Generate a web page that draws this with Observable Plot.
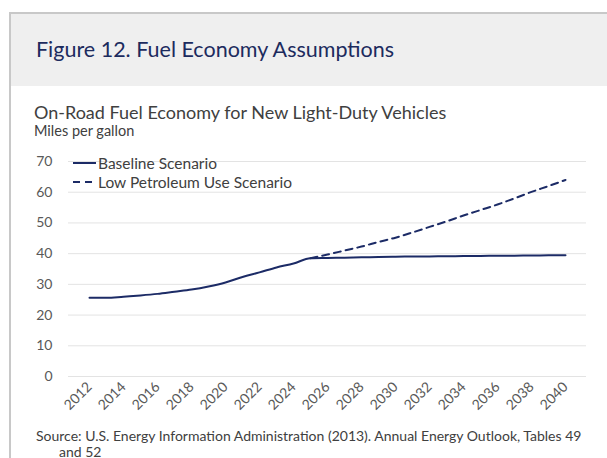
<!DOCTYPE html>
<html>
<head>
<meta charset="utf-8">
<script src="https://cdn.jsdelivr.net/npm/d3@7"></script>
<script src="https://cdn.jsdelivr.net/npm/@observablehq/plot@0.6"></script>
<style>
  html, body { margin: 0; padding: 0; background: #fff; }
  #page { position: relative; width: 607px; height: 458px; overflow: hidden; font-family: Lato, "Open Sans", sans-serif; }
  #frame { position: absolute; left: 9px; top: 12px; width: 700px; height: 600px; border-left: 2px solid #c8c8c8; border-top: 2px solid #c8c8c8; }
  #band { position: absolute; left: 11px; top: 14px; width: 700px; height: 72px; background: #efefef; }
  #title { position: absolute; left: 36px; top: 39px; font-size: 21.5px; color: #1c2b5e; white-space: nowrap; line-height: 1; }
  #subtitle { position: absolute; left: 34px; top: 103px; font-size: 18px; color: #404040; white-space: nowrap; line-height: 1; }
  #unit { position: absolute; left: 34px; top: 124px; font-size: 14.5px; color: #404040; white-space: nowrap; line-height: 1; }
  #chart { position: absolute; left: 0; top: 140px; }
  #legend { position: absolute; left: 73px; top: 154px; font-size: 15.5px; color: #404040; line-height: 18.5px; }
  #legend .row { display: flex; align-items: center; white-space: nowrap; }
  #legend svg { margin-right: 2px; }
  #source { position: absolute; left: 36px; top: 428px; font-size: 14px; color: #404040; line-height: 15.5px; white-space: nowrap; }
</style>
</head>
<body>
<div id="page">
  <div id="frame"></div>
  <div id="band"></div>
  <div id="title">Figure 12. Fuel Economy Assumptions</div>
  <div id="subtitle">On-Road Fuel Economy for New Light-Duty Vehicles</div>
  <div id="unit">Miles per gallon</div>
  <div id="chart"></div>
  <div id="legend"></div>
  <div id="source">Source: U.S. Energy Information Administration (2013). Annual Energy Outlook, Tables 49<br><span style="padding-left:23px">and 52</span></div>
</div>
<script>
const years = [2012, 2013, 2014, 2015, 2016, 2017, 2018, 2019, 2020, 2021, 2022, 2023, 2024, 2025, 2026, 2027, 2028, 2029, 2030, 2031, 2032, 2033, 2034, 2035, 2036, 2037, 2038, 2039, 2040];
const baselineValues = [25.6, 25.6, 26.0, 26.4, 26.9, 27.6, 28.3, 29.3, 30.6, 32.4, 33.9, 35.5, 36.8, 38.5, 38.6, 38.7, 38.8, 38.9, 39.0, 39.05, 39.1, 39.15, 39.2, 39.25, 39.3, 39.35, 39.4, 39.45, 39.5];
const lowYears = [2025, 2026, 2027, 2028, 2029, 2030, 2031, 2032, 2033, 2034, 2035, 2036, 2037, 2038, 2039, 2040];
const lowValues = [38.5, 39.7, 41.0, 42.3, 43.8, 45.2, 46.9, 48.7, 50.5, 52.4, 54.2, 56.0, 58.0, 60.1, 62.0, 64.0];
const xTicks = [2012, 2014, 2016, 2018, 2020, 2022, 2024, 2026, 2028, 2030, 2032, 2034, 2036, 2038, 2040];
const yTicks = [0, 10, 20, 30, 40, 50, 60, 70];
const seriesNames = ["Baseline Scenario", "Low Petroleum Use Scenario"];
const lineColor = "#1c2b66";

const baseData = years.map((y, i) => ({year: y, value: baselineValues[i]}));
const lowData = lowYears.map((y, i) => ({year: y, value: lowValues[i]}));

const chart = Plot.plot({
  width: 607,
  height: 280,
  marginLeft: 68,
  marginRight: 21,
  marginTop: 21,
  marginBottom: 44,
  style: {fontFamily: "Lato, 'Open Sans', sans-serif", fontSize: "14px", color: "#595959", background: "transparent", overflow: "visible"},
  x: {type: "point", domain: years, padding: 0.5, label: null},
  y: {domain: [0, 70], label: null},
  marks: [
    Plot.gridY(yTicks, {stroke: "#e3e3e3", strokeOpacity: 1, strokeWidth: 1}),
    Plot.axisY(yTicks, {tickSize: 0, tickPadding: 16, label: null, fontSize: 14}),
    Plot.axisX(xTicks, {tickSize: 0, tickPadding: 8, tickRotate: -45, label: null, fontSize: 14, tickFormat: d => String(d)}),
    Plot.line(lowData, {x: "year", y: "value", stroke: lineColor, strokeWidth: 2, strokeDasharray: "7,5", curve: "monotone-x"}),
    Plot.line(baseData, {x: "year", y: "value", stroke: lineColor, strokeWidth: 2, curve: "monotone-x"})
  ]
});
document.getElementById("chart").appendChild(chart);

const legend = document.getElementById("legend");
seriesNames.forEach((name, i) => {
  const row = document.createElement("div");
  row.className = "row";
  row.innerHTML = `<svg width="23" height="6"><line x1="0" x2="23" y1="3" y2="3" stroke="${lineColor}" stroke-width="2" ${i === 1 ? 'stroke-dasharray="7,5"' : ''}/></svg><span>${name}</span>`;
  legend.appendChild(row);
});
</script>
</body>
</html>
